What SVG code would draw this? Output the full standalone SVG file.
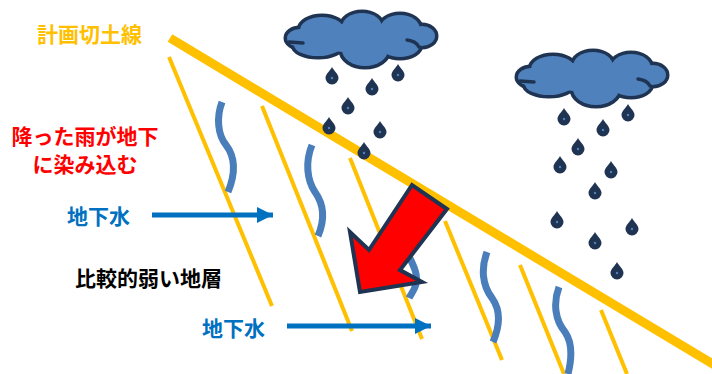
<svg xmlns="http://www.w3.org/2000/svg" width="712" height="374" viewBox="0 0 712 374">
  <defs>
    <style>
      .cut { stroke: #FFC000; stroke-linecap: butt; fill: none; }
      .layer { stroke: #FFC000; stroke-width: 4; fill: none; }
      .wave { stroke: #4A7EBB; stroke-width: 7; fill: none; }
      .flow { stroke: #0070C0; stroke-width: 5; fill: none; }
      .lbl { font-family: "Noto Sans CJK JP", "Noto Sans", sans-serif; font-weight: bold; font-size: 21px; }
      .cloud-edge ellipse { fill: #1F3452; stroke: #1F3452; stroke-width: 7; }
      .cloud-body ellipse { fill: #4F81BD; }
      .cloud-line { stroke: #1F3452; stroke-width: 3.5; fill: none; stroke-linecap: round; }
      .drop-body { fill: #1F3452; }
      .drop-dot { fill: #4F81BD; }
    </style>
    <marker id="head" viewBox="0 0 16 16" refX="16" refY="8" markerWidth="16" markerHeight="16" markerUnits="userSpaceOnUse" orient="auto">
      <path d="M0,0 L16,8 L0,16 Z" fill="#0070C0"/>
    </marker>
    <g id="drop">
      <path class="drop-body" d="M0,-11 C2,-7 6.5,-4 6.5,0 A6.5,6.5 0 1 1 -6.5,0 C-6.5,-4 -2,-7 0,-11 Z"/>
      <circle class="drop-dot" cx="0" cy="0" r="1.2"/>
    </g>
    <g id="cloud">
      <g class="cloud-edge">
        <ellipse cx="300" cy="38" rx="13" ry="9"/>
        <ellipse cx="322" cy="30" rx="22" ry="13"/>
        <ellipse cx="362" cy="27" rx="20" ry="14"/>
        <ellipse cx="400" cy="29" rx="20" ry="14"/>
        <ellipse cx="422" cy="36" rx="13" ry="10"/>
        <ellipse cx="318" cy="45" rx="24" ry="11"/>
        <ellipse cx="365" cy="50" rx="23" ry="16"/>
        <ellipse cx="400" cy="45" rx="20" ry="12"/>
      </g>
      <g class="cloud-body">
        <ellipse cx="300" cy="38" rx="13" ry="9"/>
        <ellipse cx="322" cy="30" rx="22" ry="13"/>
        <ellipse cx="362" cy="27" rx="20" ry="14"/>
        <ellipse cx="400" cy="29" rx="20" ry="14"/>
        <ellipse cx="422" cy="36" rx="13" ry="10"/>
        <ellipse cx="318" cy="45" rx="24" ry="11"/>
        <ellipse cx="365" cy="50" rx="23" ry="16"/>
        <ellipse cx="400" cy="45" rx="20" ry="12"/>
        <ellipse cx="362" cy="38" rx="58" ry="15"/>
      </g>
      <path class="cloud-line" d="M289,42 L303,43"/>
      <path class="cloud-line" d="M407,40 Q416,41 419,47"/>
    </g>
  </defs>

  <rect width="712" height="374" fill="#FFFFFF"/>

  <!-- weak strata -->
  <g id="strata">
    <line class="layer" x1="169" y1="57" x2="272" y2="306"/>
    <line class="layer" x1="262" y1="106" x2="352" y2="331"/>
    <line class="layer" x1="350" y1="158" x2="422" y2="339"/>
    <line class="layer" x1="445" y1="221" x2="502" y2="360"/>
    <line class="layer" x1="520" y1="265" x2="564" y2="374"/>
    <line class="layer" x1="601" y1="310" x2="627" y2="374"/>
  </g>

  <!-- planned cut slope -->
  <g id="cut-slope">
    <line class="cut" x1="170" y1="38" x2="716" y2="366" stroke-width="9"/>
  </g>

  <!-- seepage water -->
  <g id="seepage">
    <path class="wave" d="M222,102 C216,118 218,135 226,145 C236,158 235,175 228,192"/>
    <path class="wave" d="M312,145 C305,162 307,180 315,192 C325,206 324,222 318,236"/>
    <path class="wave" d="M402,220 C396,238 410,255 415,270 C420,285 412,292 409,298"/>
    <path class="wave" d="M487,252 C481,268 482,285 492,298 C502,312 499,328 493,342"/>
    <path class="wave" d="M559,287 C553,303 555,320 565,332 C574,345 571,362 568,374"/>
  </g>

  <!-- rain clouds -->
  <g id="cloud-1">
    <use href="#cloud"/>
  </g>
  <g id="cloud-2" transform="translate(231,39)">
    <use href="#cloud"/>
  </g>

  <!-- rain -->
  <g id="rain-1">
    <use href="#drop" x="332" y="78"/>
    <use href="#drop" x="398" y="75"/>
    <use href="#drop" x="372" y="89"/>
    <use href="#drop" x="348" y="108"/>
    <use href="#drop" x="329" y="128"/>
    <use href="#drop" x="380" y="132"/>
    <use href="#drop" x="364" y="153"/>
  </g>
  <g id="rain-2">
    <use href="#drop" x="564" y="119"/>
    <use href="#drop" x="628" y="115"/>
    <use href="#drop" x="603" y="130"/>
    <use href="#drop" x="578" y="149"/>
    <use href="#drop" x="560" y="167"/>
    <use href="#drop" x="611" y="172"/>
    <use href="#drop" x="595" y="193"/>
    <use href="#drop" x="557" y="222"/>
    <use href="#drop" x="632" y="229"/>
    <use href="#drop" x="595" y="243"/>
    <use href="#drop" x="617" y="273"/>
  </g>

  <!-- groundwater flow -->
  <g id="connectors">
    <line class="flow" x1="152" y1="215" x2="273" y2="215" marker-end="url(#head)"/>
    <line class="flow" x1="287" y1="326" x2="431" y2="326" marker-end="url(#head)"/>
  </g>

  <!-- infiltration arrow -->
  <g id="infiltration-arrow">
    <polygon points="412,185 369,250 350,232 360,292 422,282 400,270 447,209" fill="#FF0000" stroke="#1F3452" stroke-width="4" stroke-linejoin="miter"/>
  </g>

  <!-- labels -->
  <g id="label-cut">
    <text class="lbl" x="37" y="42" fill="#FFC000">計画切土線</text>
  </g>
  <g id="label-rain">
    <text class="lbl" x="85" y="144" fill="#FF0000" text-anchor="middle">降った雨が地下</text>
    <text class="lbl" x="85" y="172" fill="#FF0000" text-anchor="middle">に染み込む</text>
  </g>
  <g id="label-groundwater-1">
    <text class="lbl" x="67" y="224" fill="#0070C0">地下水</text>
  </g>
  <g id="label-stratum">
    <text class="lbl" x="75" y="286" fill="#000000">比較的弱い地層</text>
  </g>
  <g id="label-groundwater-2">
    <text class="lbl" x="202" y="336" fill="#0070C0">地下水</text>
  </g>
</svg>
